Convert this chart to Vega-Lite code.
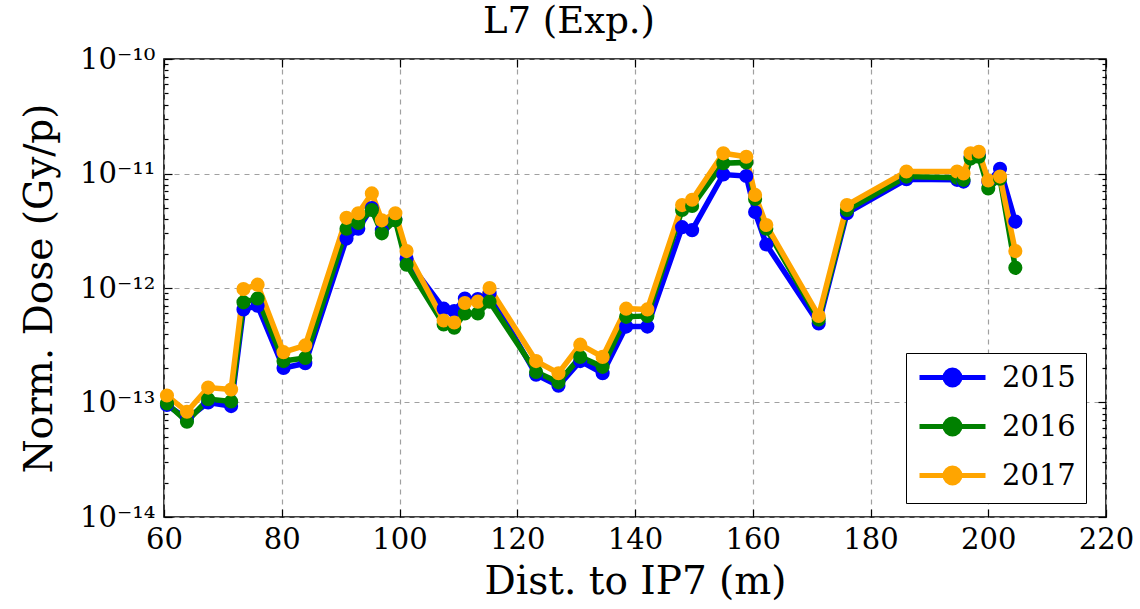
{
  "$schema": "https://vega.github.io/schema/vega-lite/v6.json",
  "width": 942,
  "height": 458,
  "autosize": {"type": "none"},
  "padding": {"left": 164, "top": 59, "right": 34, "bottom": 92},
  "background": "white",
  "title": {"text": "L7 (Exp.)", "font": "DejaVu Serif", "fontSize": 37, "fontWeight": "normal", "color": "black", "offset": 4, "dx": -66},
  "config": {
    "title": {"font": "DejaVu Serif", "fontSize": 37, "fontWeight": "normal", "color": "black"},
    "view": {"stroke": "black", "strokeWidth": 1.6},
    "axis": {"labelFont": "DejaVu Serif", "titleFont": "DejaVu Serif", "labelColor": "black", "titleColor": "black", "titleFontWeight": "normal", "domain": false, "tickColor": "black", "gridColor": "#a0a0a0", "gridDash": [5, 5], "gridWidth": 1.2}
  },
  "datasets": {
    "dose": [
      {"x": 60.5, "year": "2015", "dose": 9.5e-14}, {"x": 60.5, "year": "2016", "dose": 9.8e-14}, {"x": 60.5, "year": "2017", "dose": 1.15e-13},
      {"x": 63.9, "year": "2015", "dose": 7.2e-14}, {"x": 63.9, "year": "2016", "dose": 6.8e-14}, {"x": 63.9, "year": "2017", "dose": 8.3e-14},
      {"x": 67.5, "year": "2015", "dose": 1.0e-13}, {"x": 67.5, "year": "2016", "dose": 1.07e-13}, {"x": 67.5, "year": "2017", "dose": 1.35e-13},
      {"x": 71.4, "year": "2015", "dose": 9.3e-14}, {"x": 71.4, "year": "2016", "dose": 1.02e-13}, {"x": 71.4, "year": "2017", "dose": 1.3e-13},
      {"x": 73.5, "year": "2015", "dose": 6.5e-13}, {"x": 73.5, "year": "2016", "dose": 7.5e-13}, {"x": 73.5, "year": "2017", "dose": 9.8e-13},
      {"x": 75.9, "year": "2015", "dose": 7.0e-13}, {"x": 75.9, "year": "2016", "dose": 8.1e-13}, {"x": 75.9, "year": "2017", "dose": 1.07e-12},
      {"x": 80.3, "year": "2015", "dose": 2.0e-13}, {"x": 80.3, "year": "2016", "dose": 2.3e-13}, {"x": 80.3, "year": "2017", "dose": 2.75e-13},
      {"x": 84.0, "year": "2015", "dose": 2.2e-13}, {"x": 84.0, "year": "2016", "dose": 2.45e-13}, {"x": 84.0, "year": "2017", "dose": 3.15e-13},
      {"x": 91.0, "year": "2015", "dose": 2.7e-12}, {"x": 91.0, "year": "2016", "dose": 3.3e-12}, {"x": 91.0, "year": "2017", "dose": 4.1e-12},
      {"x": 93.0, "year": "2015", "dose": 3.3e-12}, {"x": 93.0, "year": "2016", "dose": 3.7e-12}, {"x": 93.0, "year": "2017", "dose": 4.5e-12},
      {"x": 95.3, "year": "2015", "dose": 5.0e-12}, {"x": 95.3, "year": "2016", "dose": 4.8e-12}, {"x": 95.3, "year": "2017", "dose": 6.7e-12},
      {"x": 97.0, "year": "2015", "dose": 3.2e-12}, {"x": 97.0, "year": "2016", "dose": 3.0e-12}, {"x": 97.0, "year": "2017", "dose": 3.9e-12},
      {"x": 99.3, "year": "2015", "dose": 4.0e-12}, {"x": 99.3, "year": "2016", "dose": 3.9e-12}, {"x": 99.3, "year": "2017", "dose": 4.5e-12},
      {"x": 101.2, "year": "2015", "dose": 1.8e-12}, {"x": 101.2, "year": "2016", "dose": 1.6e-12}, {"x": 101.2, "year": "2017", "dose": 2.1e-12},
      {"x": 107.5, "year": "2015", "dose": 6.6e-13}, {"x": 107.5, "year": "2016", "dose": 4.8e-13}, {"x": 107.5, "year": "2017", "dose": 5.2e-13},
      {"x": 109.3, "year": "2015", "dose": 6.3e-13}, {"x": 109.3, "year": "2016", "dose": 4.5e-13}, {"x": 109.3, "year": "2017", "dose": 5.0e-13},
      {"x": 111.1, "year": "2015", "dose": 8.1e-13}, {"x": 111.1, "year": "2016", "dose": 6.0e-13}, {"x": 111.1, "year": "2017", "dose": 7.4e-13},
      {"x": 113.3, "year": "2015", "dose": 8.0e-13}, {"x": 113.3, "year": "2016", "dose": 6.0e-13}, {"x": 113.3, "year": "2017", "dose": 7.6e-13},
      {"x": 115.3, "year": "2015", "dose": 9.0e-13}, {"x": 115.3, "year": "2016", "dose": 7.6e-13}, {"x": 115.3, "year": "2017", "dose": 1.0e-12},
      {"x": 123.2, "year": "2015", "dose": 1.75e-13}, {"x": 123.2, "year": "2016", "dose": 1.85e-13}, {"x": 123.2, "year": "2017", "dose": 2.3e-13},
      {"x": 127.0, "year": "2015", "dose": 1.4e-13}, {"x": 127.0, "year": "2016", "dose": 1.5e-13}, {"x": 127.0, "year": "2017", "dose": 1.8e-13},
      {"x": 130.7, "year": "2015", "dose": 2.3e-13}, {"x": 130.7, "year": "2016", "dose": 2.5e-13}, {"x": 130.7, "year": "2017", "dose": 3.2e-13},
      {"x": 134.5, "year": "2015", "dose": 1.8e-13}, {"x": 134.5, "year": "2016", "dose": 2.05e-13}, {"x": 134.5, "year": "2017", "dose": 2.5e-13},
      {"x": 138.5, "year": "2015", "dose": 4.6e-13}, {"x": 138.5, "year": "2016", "dose": 5.6e-13}, {"x": 138.5, "year": "2017", "dose": 6.6e-13},
      {"x": 142.1, "year": "2015", "dose": 4.6e-13}, {"x": 142.1, "year": "2016", "dose": 5.7e-13}, {"x": 142.1, "year": "2017", "dose": 6.5e-13},
      {"x": 148.0, "year": "2015", "dose": 3.4e-12}, {"x": 148.0, "year": "2016", "dose": 4.8e-12}, {"x": 148.0, "year": "2017", "dose": 5.3e-12},
      {"x": 149.7, "year": "2015", "dose": 3.2e-12}, {"x": 149.7, "year": "2016", "dose": 5.2e-12}, {"x": 149.7, "year": "2017", "dose": 5.9e-12},
      {"x": 155.0, "year": "2015", "dose": 9.8e-12}, {"x": 155.0, "year": "2016", "dose": 1.23e-11}, {"x": 155.0, "year": "2017", "dose": 1.5e-11},
      {"x": 158.9, "year": "2015", "dose": 9.5e-12}, {"x": 158.9, "year": "2016", "dose": 1.25e-11}, {"x": 158.9, "year": "2017", "dose": 1.4e-11},
      {"x": 160.4, "year": "2015", "dose": 4.6e-12}, {"x": 160.4, "year": "2016", "dose": 6.0e-12}, {"x": 160.4, "year": "2017", "dose": 6.5e-12},
      {"x": 162.3, "year": "2015", "dose": 2.4e-12}, {"x": 162.3, "year": "2016", "dose": 3.3e-12}, {"x": 162.3, "year": "2017", "dose": 3.55e-12},
      {"x": 171.2, "year": "2015", "dose": 4.9e-13}, {"x": 171.2, "year": "2016", "dose": 5.3e-13}, {"x": 171.2, "year": "2017", "dose": 5.7e-13},
      {"x": 176.0, "year": "2015", "dose": 4.5e-12}, {"x": 176.0, "year": "2016", "dose": 4.8e-12}, {"x": 176.0, "year": "2017", "dose": 5.3e-12},
      {"x": 186.1, "year": "2015", "dose": 8.9e-12}, {"x": 186.1, "year": "2016", "dose": 9.4e-12}, {"x": 186.1, "year": "2017", "dose": 1.04e-11},
      {"x": 194.7, "year": "2015", "dose": 8.8e-12}, {"x": 194.7, "year": "2016", "dose": 9.2e-12}, {"x": 194.7, "year": "2017", "dose": 1.04e-11},
      {"x": 195.8, "year": "2015", "dose": 8.5e-12}, {"x": 195.8, "year": "2016", "dose": 8.8e-12}, {"x": 195.8, "year": "2017", "dose": 1.0e-11},
      {"x": 197.0, "year": "2015", "dose": 1.4e-11}, {"x": 197.0, "year": "2016", "dose": 1.35e-11}, {"x": 197.0, "year": "2017", "dose": 1.5e-11},
      {"x": 198.4, "year": "2015", "dose": 1.45e-11}, {"x": 198.4, "year": "2016", "dose": 1.4e-11}, {"x": 198.4, "year": "2017", "dose": 1.55e-11},
      {"x": 200.0, "year": "2015", "dose": 8.5e-12}, {"x": 200.0, "year": "2016", "dose": 7.4e-12}, {"x": 200.0, "year": "2017", "dose": 8.7e-12},
      {"x": 202.0, "year": "2015", "dose": 1.1e-11}, {"x": 202.0, "year": "2016", "dose": 9.0e-12}, {"x": 202.0, "year": "2017", "dose": 9.4e-12},
      {"x": 204.6, "year": "2015", "dose": 3.8e-12}, {"x": 204.6, "year": "2016", "dose": 1.5e-12}, {"x": 204.6, "year": "2017", "dose": 2.1e-12}
    ]
  },
  "data": {"name": "dose"},
  "resolve": {"axis": {"x": "independent", "y": "independent"}},
  "layer": [
    {
      "mark": {"type": "line", "strokeWidth": 5.5, "point": {"filled": true, "size": 200, "opacity": 1}},
      "encoding": {
        "x": {"field": "x", "type": "quantitative",
          "scale": {"domain": [60, 220], "nice": false, "zero": false},
          "axis": {"orient": "bottom", "title": "Dist. to IP7 (m)", "titleFontSize": 39, "titlePadding": 8, "labelFontSize": 29, "labelPadding": 16, "values": [60, 80, 100, 120, 140, 160, 180, 200, 220], "tickSize": -8, "tickWidth": 1.2, "grid": true, "labelFlush": false}},
        "y": {"field": "dose", "type": "quantitative",
          "scale": {"type": "log", "domain": [1e-14, 1e-10], "nice": false},
          "axis": {"orient": "left", "title": "Norm. Dose (Gy/p)", "titleFontSize": 39, "titlePadding": 20, "labelFontSize": 29, "labelPadding": 17,
            "values": [1e-14, 2e-14, 3e-14, 4e-14, 5e-14, 6e-14, 7e-14, 8e-14, 9e-14, 1e-13, 2e-13, 3e-13, 4e-13, 5e-13, 6e-13, 7e-13, 8e-13, 9e-13, 1e-12, 2e-12, 3e-12, 4e-12, 5e-12, 6e-12, 7e-12, 8e-12, 9e-12, 1e-11, 2e-11, 3e-11, 4e-11, 5e-11, 6e-11, 7e-11, 8e-11, 9e-11, 1e-10],
            "labelExpr": "datum.value == 1e-14 ? '10⁻¹⁴' : datum.value == 1e-13 ? '10⁻¹³' : datum.value == 1e-12 ? '10⁻¹²' : datum.value == 1e-11 ? '10⁻¹¹' : datum.value == 1e-10 ? '10⁻¹⁰' : ''",
            "tickSize": {"condition": {"test": "abs(log(datum.value)/LN10 - round(log(datum.value)/LN10)) < 0.001", "value": -8}, "value": -4},
            "tickWidth": 1.2,
            "gridOpacity": {"condition": {"test": "abs(log(datum.value)/LN10 - round(log(datum.value)/LN10)) < 0.001", "value": 1}, "value": 0},
            "labelFlush": false}},
        "color": {"field": "year", "type": "nominal",
          "scale": {"domain": ["2015", "2016", "2017"], "range": ["#0000ff", "#008000", "#ffa500"]},
          "legend": {"title": null, "orient": "none", "legendX": 742, "legendY": 294, "direction": "vertical",
            "strokeColor": "black", "fillColor": "white", "padding": 10, "cornerRadius": 0,
            "labelFont": "DejaVu Serif", "labelFontSize": 29, "labelColor": "black", "labelOffset": 35, "rowPadding": 14,
            "symbolType": "M-3,0L3,0M0.68,0A0.68,0.68,0,1,1,-0.68,0A0.68,0.68,0,1,1,0.68,0Z",
            "symbolSize": 484, "symbolStrokeWidth": 5, "symbolOffset": 22, "symbolOpacity": 1,
            "encode": {"symbols": {"update": {"fill": {"scale": "color", "field": "value"}, "stroke": {"scale": "color", "field": "value"}}}}}},
        "order": {"field": "x", "type": "quantitative"}
      }
    },
    {
      "mark": {"type": "point", "opacity": 0},
      "encoding": {
        "x": {"field": "x", "type": "quantitative",
          "axis": {"orient": "top", "title": null, "labels": false, "values": [60, 80, 100, 120, 140, 160, 180, 200, 220], "tickSize": -8, "tickWidth": 1.2, "grid": false}},
        "y": {"field": "dose", "type": "quantitative",
          "axis": {"orient": "right", "title": null, "labels": false, "grid": false,
            "values": [1e-14, 2e-14, 3e-14, 4e-14, 5e-14, 6e-14, 7e-14, 8e-14, 9e-14, 1e-13, 2e-13, 3e-13, 4e-13, 5e-13, 6e-13, 7e-13, 8e-13, 9e-13, 1e-12, 2e-12, 3e-12, 4e-12, 5e-12, 6e-12, 7e-12, 8e-12, 9e-12, 1e-11, 2e-11, 3e-11, 4e-11, 5e-11, 6e-11, 7e-11, 8e-11, 9e-11, 1e-10],
            "tickSize": {"condition": {"test": "abs(log(datum.value)/LN10 - round(log(datum.value)/LN10)) < 0.001", "value": -8}, "value": -4},
            "tickWidth": 1.2}}
      }
    }
  ]
}
